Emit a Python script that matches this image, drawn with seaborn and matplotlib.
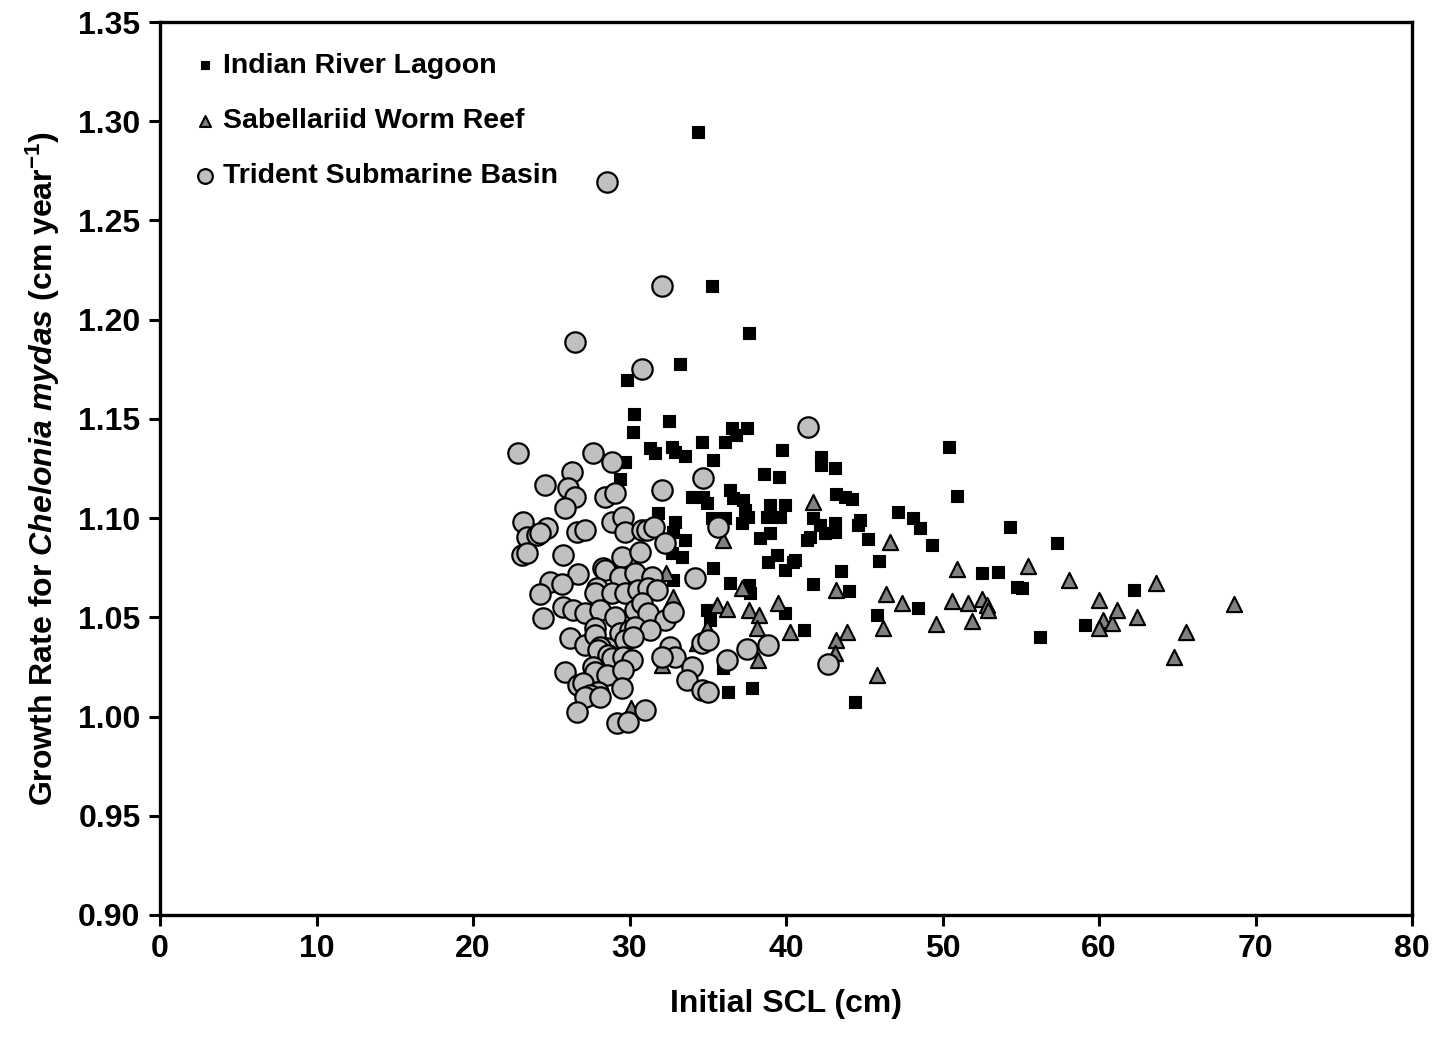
import matplotlib
matplotlib.use("Agg")
import matplotlib.pyplot as plt
import seaborn as sns
import pandas as pd

# ---- data (Initial SCL in cm, growth rate in cm/yr) ----
irl_scl = [34.38, 35.27, 37.64, 33.23, 29.84, 30.29, 30.22, 32.52, 34.63, 36.10,
           36.55, 37.51, 36.81, 39.74, 31.31, 31.63, 32.72, 32.91, 33.55, 35.34,
           29.71, 29.39, 38.59, 39.55, 42.24, 42.24, 43.13, 50.42, 50.93, 43.19,
           43.77, 44.22, 47.16, 48.12, 48.56, 49.33, 54.31, 57.32, 41.73, 42.17,
           42.49, 43.13, 43.13, 44.73, 44.60, 45.24, 41.34, 41.53, 40.58, 39.94,
           43.51, 45.94, 41.73, 44.03, 52.52, 53.55, 54.76, 55.08, 48.43, 45.81,
           39.94, 41.15, 56.23, 59.11, 44.41, 62.24, 35.34, 36.42, 37.64, 37.70,
           34.95, 35.14, 36.29, 37.83, 35.97, 38.85, 40.45, 36.42, 36.61, 37.25,
           37.38, 37.57, 37.19, 33.99, 34.70, 34.95, 38.98, 39.94, 38.79, 39.62,
           38.34, 38.98, 31.82, 32.91, 32.78, 33.55, 32.72, 33.35, 32.78, 39.42,
           35.27, 36.10]
irl_rate = [1.2946, 1.2169, 1.1933, 1.1776, 1.1696, 1.1524, 1.1434, 1.1489, 1.1383, 1.1383,
            1.1454, 1.1454, 1.1418, 1.1343, 1.1353, 1.1328, 1.1358, 1.1333, 1.1313, 1.1292,
            1.1282, 1.1197, 1.1222, 1.1207, 1.1308, 1.1267, 1.1252, 1.1358, 1.1111, 1.1121,
            1.1106, 1.1096, 1.1030, 1.1000, 1.0950, 1.0864, 1.0955, 1.0874, 1.1000, 1.0965,
            1.0925, 1.0975, 1.0930, 1.0990, 1.0965, 1.0894, 1.0889, 1.0904, 1.0788, 1.0738,
            1.0733, 1.0783, 1.0668, 1.0632, 1.0723, 1.0728, 1.0652, 1.0647, 1.0547, 1.0511,
            1.0521, 1.0436, 1.0400, 1.0461, 1.0073, 1.0637, 1.0748, 1.0673, 1.0662, 1.0622,
            1.0536, 1.0486, 1.0123, 1.0143, 1.0244, 1.0778, 1.0778, 1.1141, 1.1101, 1.1091,
            1.1040, 1.1005, 1.0975, 1.1106, 1.1106, 1.1076, 1.1066, 1.1066, 1.1005, 1.1005,
            1.0899, 1.0925, 1.1025, 1.0980, 1.0930, 1.0889, 1.0824, 1.0804, 1.0688, 1.0814,
            1.1000, 1.1000]

swr_scl = [41.73, 46.65, 50.93, 55.46, 58.08, 63.64, 68.63, 43.19, 46.39, 47.41,
           50.61, 51.63, 52.52, 52.84, 52.91, 51.88, 49.58, 46.20, 43.90, 43.19,
           43.13, 45.81, 40.26, 60.00, 60.26, 60.00, 60.83, 61.15, 62.43, 65.56,
           64.79, 37.19, 35.59, 36.23, 37.64, 38.27, 38.15, 39.49, 34.95, 38.21,
           35.97, 32.33, 32.78, 32.08, 30.10, 34.31]
swr_rate = [1.1081, 1.0879, 1.0743, 1.0758, 1.0688, 1.0673, 1.0567, 1.0637, 1.0617, 1.0572,
            1.0582, 1.0572, 1.0592, 1.0562, 1.0536, 1.0481, 1.0466, 1.0446, 1.0426, 1.0385,
            1.0320, 1.0209, 1.0426, 1.0587, 1.0486, 1.0446, 1.0471, 1.0536, 1.0501, 1.0426,
            1.0300, 1.0647, 1.0562, 1.0542, 1.0536, 1.0511, 1.0446, 1.0572, 1.0446, 1.0284,
            1.0889, 1.0723, 1.0602, 1.0259, 1.0043, 1.0370]

tsb_scl = [28.56, 32.08, 26.52, 30.80, 41.41, 22.88, 27.67, 28.88, 26.33, 24.60,
           26.07, 26.52, 25.88, 28.43, 29.07, 32.08, 34.70, 35.65, 23.19, 23.45,
           24.09, 24.73, 24.28, 26.65, 27.16, 28.88, 29.58, 29.71, 30.80, 31.12,
           31.57, 23.13, 23.45, 25.75, 29.52, 30.67, 32.27, 26.71, 28.31, 28.43,
           24.92, 25.69, 29.39, 30.35, 31.44, 24.28, 27.92, 27.80, 28.88, 29.71,
           30.54, 31.18, 31.76, 25.75, 26.39, 27.16, 28.12, 29.07, 30.35, 30.80,
           31.18, 32.27, 32.78, 24.47, 27.80, 29.39, 30.03, 30.35, 31.31, 26.20,
           27.16, 27.80, 28.56, 28.12, 29.71, 30.22, 27.99, 28.63, 28.88, 29.58,
           30.16, 32.59, 32.91, 32.08, 27.67, 27.80, 28.56, 29.58, 25.88, 33.99,
           33.67, 34.63, 26.71, 27.03, 27.99, 29.52, 27.48, 27.16, 28.12, 26.65,
           29.20, 29.90, 30.99, 34.19, 34.63, 35.02, 36.23, 37.51, 38.85, 35.02,
           42.68]
tsb_rate = [1.2694, 1.2169, 1.1887, 1.1751, 1.1459, 1.1328, 1.1328, 1.1282, 1.1232, 1.1166,
            1.1151, 1.1106, 1.1051, 1.1106, 1.1126, 1.1141, 1.1202, 1.0955, 1.0980, 1.0904,
            1.0914, 1.0950, 1.0925, 1.0930, 1.0940, 1.0980, 1.1005, 1.0930, 1.0940, 1.0940,
            1.0955, 1.0814, 1.0824, 1.0814, 1.0804, 1.0829, 1.0874, 1.0718, 1.0748, 1.0738,
            1.0678, 1.0668, 1.0703, 1.0723, 1.0703, 1.0617, 1.0647, 1.0622, 1.0622, 1.0622,
            1.0637, 1.0647, 1.0637, 1.0552, 1.0536, 1.0521, 1.0536, 1.0501, 1.0536, 1.0572,
            1.0521, 1.0486, 1.0526, 1.0496, 1.0446, 1.0421, 1.0436, 1.0451, 1.0436, 1.0395,
            1.0360, 1.0410, 1.0345, 1.0350, 1.0385, 1.0400, 1.0335, 1.0310, 1.0295, 1.0300,
            1.0284, 1.0350, 1.0300, 1.0300, 1.0249, 1.0224, 1.0209, 1.0234, 1.0224, 1.0249,
            1.0184, 1.0133, 1.0158, 1.0168, 1.0123, 1.0143, 1.0108, 1.0098, 1.0098, 1.0022,
            0.9967, 0.9972, 1.0032, 1.0698, 1.0370, 1.0385, 1.0284, 1.0340, 1.0360, 1.0123,
            1.0264]

site_names = ["Indian River Lagoon", "Sabellariid Worm Reef", "Trident Submarine Basin"]
x_ticks = [0, 10, 20, 30, 40, 50, 60, 70, 80]
y_ticks = [0.90, 0.95, 1.00, 1.05, 1.10, 1.15, 1.20, 1.25, 1.30, 1.35]

df = pd.concat([
    pd.DataFrame({"scl": irl_scl, "rate": irl_rate, "site": site_names[0]}),
    pd.DataFrame({"scl": swr_scl, "rate": swr_rate, "site": site_names[1]}),
    pd.DataFrame({"scl": tsb_scl, "rate": tsb_rate, "site": site_names[2]}),
], ignore_index=True)

# ---- style ----
sns.set_style("ticks")
plt.rcParams["font.family"] = ["Liberation Sans", "DejaVu Sans"]
plt.rcParams["font.weight"] = "bold"
plt.rcParams["text.color"] = "black"
plt.rcParams["axes.labelcolor"] = "black"
plt.rcParams["axes.edgecolor"] = "black"
plt.rcParams["xtick.color"] = "black"
plt.rcParams["ytick.color"] = "black"
plt.rcParams["mathtext.fontset"] = "custom"
plt.rcParams["mathtext.rm"] = "Liberation Sans:bold"
plt.rcParams["mathtext.bf"] = "Liberation Sans:bold"
plt.rcParams["mathtext.it"] = "Liberation Sans:bold:italic"

fig = plt.figure(figsize=(14.39, 10.46), dpi=100)
ax = fig.add_axes([160 / 1439, 131 / 1046, (1412 - 160) / 1439, (915 - 22) / 1046])

styles = {
    site_names[0]: dict(marker="s", s=75, color="black", edgecolor="black", linewidth=0.8),
    site_names[1]: dict(marker="^", s=120, color="#808080", edgecolor="black", linewidth=1.5),
    site_names[2]: dict(marker="o", s=215, color="#c0c0c0", edgecolor="black", linewidth=1.6),
}
for name in site_names:
    sub = df[df["site"] == name]
    sns.scatterplot(data=sub, x="scl", y="rate", ax=ax, label=name, zorder=3,
                    **styles[name])

ax.set_xlim(0, 80)
ax.set_ylim(0.90, 1.35)
ax.set_xticks(x_ticks)
ax.set_xticklabels([str(t) for t in x_ticks])
ax.set_yticks(y_ticks)
ax.set_yticklabels([f"{t:.2f}" for t in y_ticks])
ax.tick_params(axis="both", direction="out", length=8, width=2.2, labelsize=23,
               pad=6, colors="black")
ax.tick_params(top=False, right=False)
for sp in ax.spines.values():
    sp.set_linewidth(2.4)
    sp.set_color("black")
    sp.set_visible(True)

ax.set_xlabel("Initial SCL (cm)", fontsize=23, fontweight="bold", labelpad=18)
ax.set_ylabel(r"Growth Rate for $\it{Chelonia\ mydas}$ (cm year$^{\mathbf{-1}}$)",
              fontsize=23, fontweight="bold", labelpad=12)

leg = ax.legend(loc="upper left", frameon=False, markerscale=0.72,
                handletextpad=0.15, labelspacing=1.03, borderaxespad=0.68,
                handlelength=1.0, prop={"weight": "bold", "size": 20.5})

fig.savefig("out.png", dpi=100)
